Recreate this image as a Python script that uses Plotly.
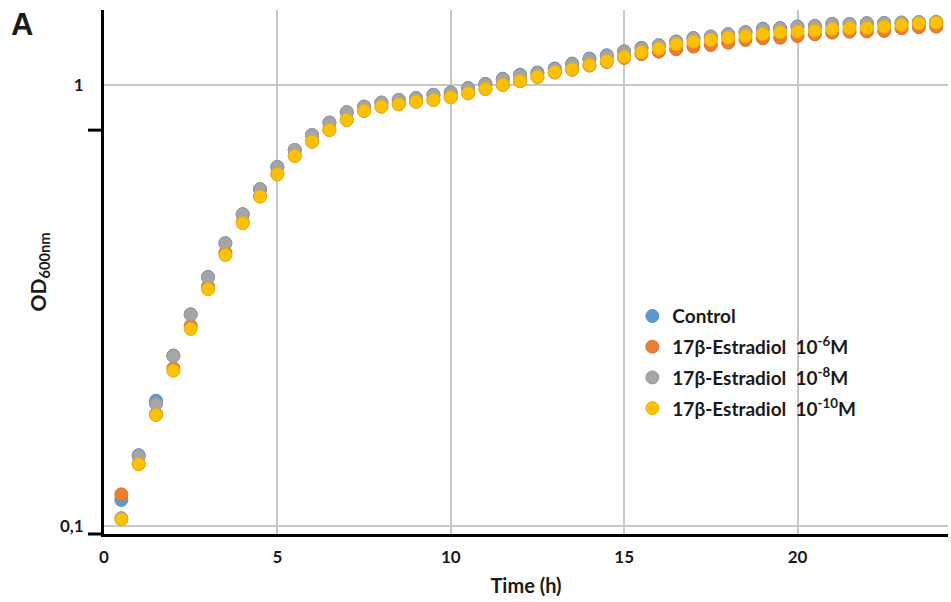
import plotly.graph_objects as go

time_h = [0.5, 1, 1.5, 2, 2.5, 3, 3.5, 4, 4.5, 5, 5.5, 6, 6.5, 7, 7.5, 8, 8.5, 9, 9.5, 10,
          10.5, 11, 11.5, 12, 12.5, 13, 13.5, 14, 14.5, 15, 15.5, 16, 16.5, 17, 17.5, 18,
          18.5, 19, 19.5, 20, 20.5, 21, 21.5, 22, 22.5, 23, 23.5, 24]

control = [0.1146, 0.1448, 0.1924, 0.2435, 0.3020, 0.3670, 0.4380, 0.5095, 0.5805, 0.6520,
           0.7125, 0.7705, 0.8218, 0.8676, 0.8935, 0.9125, 0.9255, 0.9340, 0.9500, 0.9620,
           0.9845, 1.006, 1.033, 1.055, 1.067, 1.090, 1.118, 1.148, 1.168, 1.192,
           1.214, 1.231, 1.255, 1.278, 1.288, 1.304, 1.318, 1.342, 1.346, 1.357,
           1.362, 1.376, 1.375, 1.381, 1.383, 1.385, 1.388, 1.390]

e2_1e6 = [0.1180, 0.1385, 0.1794, 0.2278, 0.2845, 0.3489, 0.4166, 0.4892, 0.5600, 0.6285,
          0.6912, 0.7445, 0.7912, 0.8335, 0.8736, 0.8934, 0.9046, 0.9170, 0.9250, 0.9380,
          0.9578, 0.9795, 1.000, 1.020, 1.043, 1.067, 1.083, 1.107, 1.128, 1.152,
          1.175, 1.190, 1.205, 1.222, 1.232, 1.247, 1.265, 1.276, 1.280, 1.291,
          1.303, 1.314, 1.321, 1.322, 1.326, 1.345, 1.352, 1.356]

e2_1e8 = [0.1042, 0.1441, 0.1891, 0.2429, 0.3014, 0.3664, 0.4375, 0.5088, 0.5800, 0.6516,
          0.7121, 0.7701, 0.8213, 0.8671, 0.8929, 0.9118, 0.9247, 0.9329, 0.9491, 0.9606,
          0.9829, 1.0037, 1.030, 1.051, 1.063, 1.085, 1.114, 1.144, 1.163, 1.188,
          1.211, 1.229, 1.254, 1.276, 1.287, 1.303, 1.317, 1.338, 1.345, 1.356,
          1.361, 1.373, 1.375, 1.380, 1.382, 1.385, 1.388, 1.390]

e2_1e10 = [0.1035, 0.1380, 0.1785, 0.2250, 0.2797, 0.3441, 0.4116, 0.4858, 0.5581, 0.6272,
           0.6902, 0.7437, 0.7906, 0.8329, 0.8730, 0.8929, 0.9042, 0.9166, 0.9247, 0.9378,
           0.9576, 0.9793, 1.000, 1.021, 1.044, 1.069, 1.085, 1.110, 1.132, 1.159,
           1.186, 1.209, 1.237, 1.254, 1.265, 1.280, 1.291, 1.305, 1.317, 1.321,
           1.328, 1.338, 1.345, 1.347, 1.356, 1.368, 1.380, 1.384]

series_names = ["Control", "17β-Estradiol  10<sup>-6</sup>M",
                "17β-Estradiol  10<sup>-8</sup>M", "17β-Estradiol  10<sup>-10</sup>M"]
series_values = [control, e2_1e6, e2_1e8, e2_1e10]
colors = ["#5B9BD5", "#ED7D31", "#A5A5A5", "#FFC000"]
edge_colors = ["#5a8fc4", "#d9742f", "#9a9a9a", "#e8b10a"]

y_tick_vals = [0.1, 1]
y_tick_text = ["0,1", "1"]
x_tick_vals = [0, 5, 10, 15, 20]

FONT = "Lato, 'Open Sans', Arial, sans-serif"
TXT = "#1a1a1a"

fig = go.Figure()
for i, (name, vals, c, ec) in enumerate(zip(series_names, series_values, colors, edge_colors)):
    fig.add_trace(go.Scatter(
        x=time_h, y=vals, mode="markers", name=name, legendgroup=f"g{i}",
        marker=dict(size=13, color=c, line=dict(color=ec, width=1)),
    ))

fig.update_layout(
    width=951, height=602,
    margin=dict(l=104, r=3, t=10, b=68, autoexpand=False),
    paper_bgcolor="white", plot_bgcolor="white",
    font=dict(family=FONT, color=TXT, size=17),
    showlegend=True,
    legend=dict(
        x=0.626, y=0.452, xanchor="left", yanchor="top",
        bgcolor="rgba(0,0,0,0)", borderwidth=0,
        font=dict(family=FONT, size=19, color=TXT, weight="bold"),
        tracegroupgap=3,
    ),
    xaxis=dict(
        range=[0, 24.34], tickvals=x_tick_vals, automargin=False,
        showgrid=True, gridcolor="#c8c8c8", gridwidth=2,
        showline=True, linecolor="black", linewidth=3,
        zeroline=False, ticks="",
        tickfont=dict(family=FONT, size=17, color=TXT, weight="bold"),
        ticklabelstandoff=6,
        title=dict(text="Time (h)", standoff=13,
                   font=dict(family=FONT, size=20, color=TXT, weight="bold")),
    ),
    yaxis=dict(
        type="log", range=[-1.018, 0.170], automargin=False,
        tickvals=y_tick_vals, ticktext=y_tick_text,
        showgrid=True, gridcolor="#c8c8c8", gridwidth=2,
        showline=True, linecolor="black", linewidth=3,
        zeroline=False, ticks="",
        tickfont=dict(family=FONT, size=17, color=TXT, weight="bold"),
        ticklabelstandoff=14,
        title=dict(text="OD<sub>600nm</sub>", standoff=8,
                   font=dict(family=FONT, size=21, color=TXT, weight="bold")),
    ),
)

# short black tick marks on the left of the y axis
fig.add_shape(type="line", xref="paper", yref="y", x0=-0.019, x1=0,
              y0=0.79, y1=0.79, line=dict(color="black", width=3))
fig.add_shape(type="line", xref="paper", yref="paper", x0=-0.019, x1=0,
              y0=0, y1=0, line=dict(color="black", width=3))

fig.add_annotation(text="<b>A</b>", xref="paper", yref="paper", x=-0.112, y=1.01,
                   xanchor="left", yanchor="top", showarrow=False,
                   font=dict(family="Liberation Sans, Arial, sans-serif", size=31, color=TXT))

fig.write_html("out.html", post_script="document.body.style.margin='0';",
               config={"displayModeBar": False})
